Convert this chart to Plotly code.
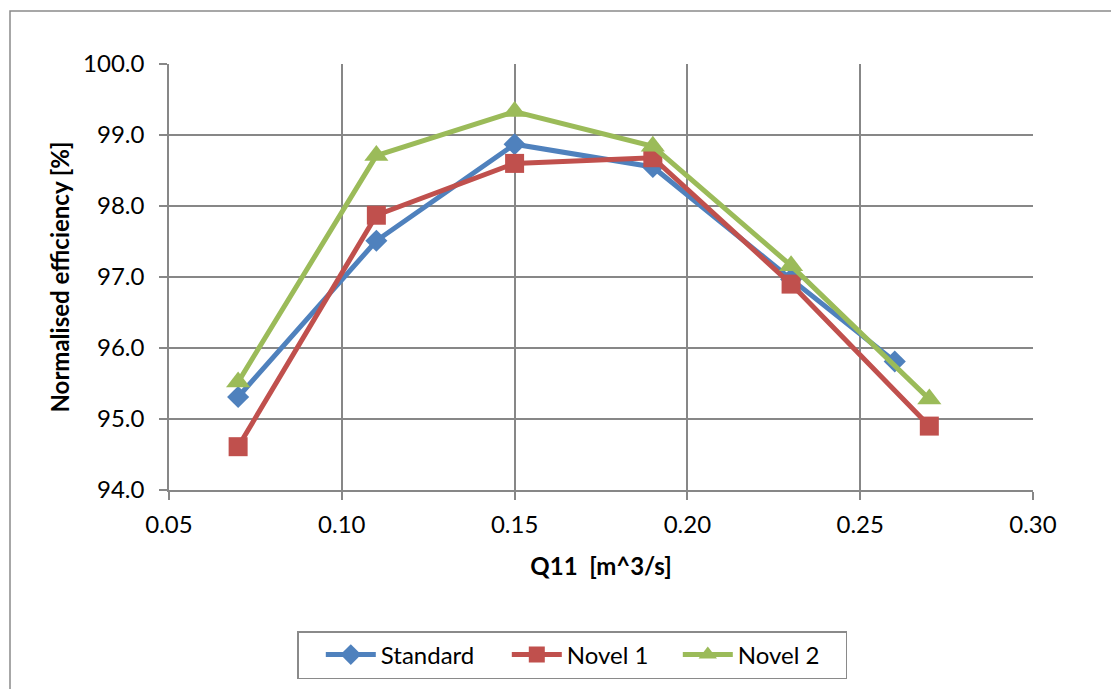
import plotly.graph_objects as go

q11_standard = [0.07, 0.11, 0.15, 0.19, 0.23, 0.26]
eff_standard = [95.31, 97.51, 98.87, 98.55, 96.97, 95.81]

q11_novel1 = [0.07, 0.11, 0.15, 0.19, 0.23, 0.27]
eff_novel1 = [94.61, 97.87, 98.60, 98.68, 96.90, 94.90]

q11_novel2 = [0.07, 0.11, 0.15, 0.19, 0.23, 0.27]
eff_novel2 = [95.52, 98.71, 99.33, 98.84, 97.16, 95.28]

x_ticks = [0.05, 0.10, 0.15, 0.20, 0.25, 0.30]
y_ticks = [94.0, 95.0, 96.0, 97.0, 98.0, 99.0, 100.0]

FONT = "Lato, 'Open Sans', sans-serif"
GRID = "#878787"
FS = 24

fig = go.Figure()
fig.add_trace(go.Scatter(x=q11_standard, y=eff_standard, name="Standard", mode="lines+markers",
                         line=dict(color="#4F81BD", width=5), legendwidth=121,
                         marker=dict(symbol="diamond", size=17, color="#4F81BD")))
fig.add_trace(go.Scatter(x=q11_novel1, y=eff_novel1, name="Novel 1", mode="lines+markers",
                         line=dict(color="#C0504D", width=5), legendwidth=106,
                         marker=dict(symbol="square", size=19, color="#C0504D")))
fig.add_trace(go.Scatter(x=q11_novel2, y=eff_novel2, name="Novel 2", mode="lines+markers",
                         line=dict(color="#9BBB59", width=5), legendwidth=102,
                         marker=dict(symbol="triangle-up", size=21, color="#9BBB59")))

# page body has an 8px margin; work in screen pixels and convert
OFF = 8
W, H = 1111, 681
L, T = 169 - OFF, 64 - OFF
pw, ph = 864, 426
R = W - L - pw
B = H - T - ph

def px_x(p):
    return (p - OFF - L) / pw

def px_y(p):
    return (T + ph - (p - OFF)) / ph

fig.add_shape(type="rect", xref="paper", yref="paper",
              x0=px_x(10), x1=px_x(1140), y0=px_y(720), y1=px_y(11),
              line=dict(color="#8a8a8a", width=1.5), fillcolor="rgba(0,0,0,0)", layer="below")

fig.update_layout(
    width=W, height=H,
    margin=dict(l=L, r=R, t=T, b=B, autoexpand=False),
    paper_bgcolor="white", plot_bgcolor="white",
    font=dict(family=FONT, size=FS, color="black"),
    showlegend=True,
    legend=dict(orientation="h", x=px_x(297), xanchor="left", y=px_y(655), yanchor="middle",
                bordercolor="#8a8a8a", borderwidth=1.5, font=dict(size=FS, family=FONT),
                title=dict(text="\u00a0\u00a0", font=dict(size=FS), side="left"),
                itemwidth=50, tracegroupgap=0, bgcolor="white"),
    xaxis=dict(range=[0.05, 0.30], tickvals=x_ticks, ticktext=[f"{v:.2f}" for v in x_ticks],
               showgrid=True, gridcolor=GRID, gridwidth=1.5,
               showline=True, linecolor=GRID, linewidth=1.5, mirror=False,
               ticks="outside", ticklen=8, tickcolor=GRID, tickwidth=1.5,
               zeroline=False, tickfont=dict(size=FS), ticklabelstandoff=4,
               title=dict(text="<b>Q11  [m^3/s]</b>", font=dict(size=FS, family=FONT), standoff=22)),
    yaxis=dict(range=[94.0, 100.0], tickvals=y_ticks, ticktext=[f"{v:.1f}" for v in y_ticks],
               showgrid=True, gridcolor=GRID, gridwidth=1.5,
               showline=True, linecolor=GRID, linewidth=1.5,
               ticks="outside", ticklen=8, tickcolor=GRID, tickwidth=1.5,
               zeroline=False, tickfont=dict(size=FS), ticklabelstandoff=10,
               title=dict(text="<b>Normalised efficiency [%]</b>", font=dict(size=FS, family=FONT), standoff=7)),
)

fig.write_html("out.html")
